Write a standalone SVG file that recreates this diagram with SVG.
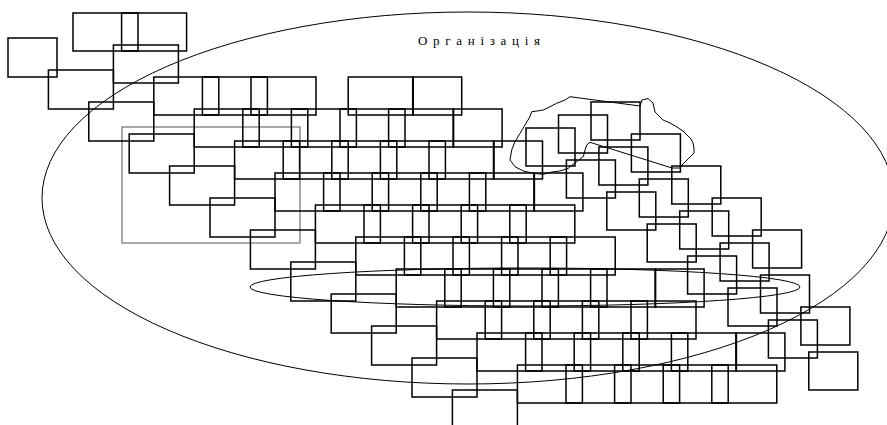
<svg xmlns="http://www.w3.org/2000/svg" width="887" height="425" viewBox="0 0 887 425">
<style>
.b{fill:none;stroke:#000;stroke-width:1.5}
.e{fill:none;stroke:#000;stroke-width:1}
.g{fill:none;stroke:#555;stroke-width:1}
.t{font-family:"Liberation Serif",serif;font-size:13px;letter-spacing:5.7px;fill:#000}
</style>
<defs>
<rect id="w" width="65" height="38"/>
<rect id="n" width="49" height="38"/>
<rect id="l" width="65" height="39"/>
</defs>
<rect width="887" height="425" fill="#fff"/>
<g id="org-ellipse"><ellipse class="e" cx="468" cy="198" rx="426" ry="186"/></g>
<g id="inner-ellipse"><ellipse class="e" cx="525" cy="287" rx="275" ry="19"/></g>
<g id="gray-frame"><rect class="g" x="122" y="127" width="178" height="116"/></g>
<g id="cloud"><path class="e" d="M570,96.7 L640,106 L642,100 L648,98.5 L653,103 L655,112 L663,120 L670,123 L677,127 L683,131 L687,135 L691,139 L693,143 L694,148 L694,153 L690,157 L685,162 L682,165 L680,168 L672,168 L590,142.3 L586.7,145 L585,150 L583.3,156.7 L580,159 L576.7,161.7 L572,165 L568.3,168.3 L560,171 L552,172 L543.3,174.3 L533.3,173.3 L523.3,171 L515,166.7 L510,160 L511.7,150 L515,141.7 L520,133.3 L525,125 L530,116.7 L531.7,111.7 L537,111 L543.3,110 L550,106.7 L556.7,103.3 L565,100 Z"/></g>
<g id="label"><text class="t" x="418" y="45">Організація</text></g>
<g id="rows" class="b">
<g id="r0-0"><use href="#w" x="73" y="13"/></g>
<g id="r0-1"><use href="#w" x="121.6" y="13"/></g>
<g id="r1-0"><use href="#w" x="113.4" y="45"/></g>
<g id="r2-0"><use href="#w" x="153.8" y="77"/></g>
<g id="r2-1"><use href="#w" x="202.4" y="77"/></g>
<g id="r2-2"><use href="#w" x="251" y="77"/></g>
<g id="r2-4"><use href="#w" x="348.2" y="77"/></g>
<g id="r3-0"><use href="#w" x="194.2" y="109"/></g>
<g id="r3-1"><use href="#w" x="242.8" y="109"/></g>
<g id="r3-2"><use href="#w" x="291.4" y="109"/></g>
<g id="r3-3"><use href="#w" x="340" y="109"/></g>
<g id="r3-4"><use href="#w" x="388.6" y="109"/></g>
<g id="r4-0"><use href="#w" x="234.6" y="141"/></g>
<g id="r4-1"><use href="#w" x="283.2" y="141"/></g>
<g id="r4-2"><use href="#w" x="331.8" y="141"/></g>
<g id="r4-3"><use href="#w" x="380.4" y="141"/></g>
<g id="r4-4"><use href="#w" x="429" y="141"/></g>
<g id="r5-0"><use href="#w" x="275" y="173"/></g>
<g id="r5-1"><use href="#w" x="323.6" y="173"/></g>
<g id="r5-2"><use href="#w" x="372.2" y="173"/></g>
<g id="r5-3"><use href="#w" x="420.8" y="173"/></g>
<g id="r5-4"><use href="#w" x="469.4" y="173"/></g>
<g id="r6-0"><use href="#w" x="315.4" y="205"/></g>
<g id="r6-1"><use href="#w" x="364" y="205"/></g>
<g id="r6-2"><use href="#w" x="412.6" y="205"/></g>
<g id="r6-3"><use href="#w" x="461.2" y="205"/></g>
<g id="r6-4"><use href="#w" x="509.8" y="205"/></g>
<g id="r7-0"><use href="#w" x="355.8" y="237"/></g>
<g id="r7-1"><use href="#w" x="404.4" y="237"/></g>
<g id="r7-2"><use href="#w" x="453" y="237"/></g>
<g id="r7-3"><use href="#w" x="501.6" y="237"/></g>
<g id="r7-4"><use href="#w" x="550.2" y="237"/></g>
<g id="r8-0"><use href="#w" x="396.2" y="269"/></g>
<g id="r8-1"><use href="#w" x="444.8" y="269"/></g>
<g id="r8-2"><use href="#w" x="493.4" y="269"/></g>
<g id="r8-3"><use href="#w" x="542" y="269"/></g>
<g id="r8-4"><use href="#w" x="590.6" y="269"/></g>
<g id="r9-0"><use href="#w" x="436.6" y="301"/></g>
<g id="r9-1"><use href="#w" x="485.2" y="301"/></g>
<g id="r9-2"><use href="#w" x="533.8" y="301"/></g>
<g id="r9-3"><use href="#w" x="582.4" y="301"/></g>
<g id="r9-4"><use href="#w" x="631" y="301"/></g>
<g id="r10-0"><use href="#w" x="477" y="333"/></g>
<g id="r10-1"><use href="#w" x="525.6" y="333"/></g>
<g id="r10-2"><use href="#w" x="574.2" y="333"/></g>
<g id="r10-3"><use href="#w" x="622.8" y="333"/></g>
<g id="r10-4"><use href="#w" x="671.4" y="333"/></g>
<g id="r11-0"><use href="#w" x="517.4" y="365"/></g>
<g id="r11-1"><use href="#w" x="566" y="365"/></g>
<g id="r11-2"><use href="#w" x="614.6" y="365"/></g>
<g id="r11-3"><use href="#w" x="663.2" y="365"/></g>
<g id="r11-4"><use href="#w" x="711.8" y="365"/></g>
</g>
<g id="lattice" class="b">
<g id="k-1_-2"><use href="#n" x="412.7" y="77"/></g>
<g id="k-1_-1"><use href="#n" x="453.1" y="109"/></g>
<g id="k-1_0"><use href="#n" x="493.5" y="141"/></g>
<g id="k-1_1"><use href="#n" x="533.9" y="173"/></g>
<g id="k-1_4"><use href="#n" x="655.1" y="269"/></g>
<g id="k-1_6"><use href="#n" x="735.9" y="333"/></g>
<g id="k0_0"><use href="#n" x="526" y="128"/></g>
<g id="k0_1"><use href="#n" x="566.4" y="160"/></g>
<g id="k0_2"><use href="#n" x="606.8" y="192"/></g>
<g id="k0_3"><use href="#n" x="647.2" y="224"/></g>
<g id="k0_4"><use href="#n" x="687.6" y="256"/></g>
<g id="k0_5"><use href="#n" x="728" y="288"/></g>
<g id="k0_6"><use href="#n" x="768.4" y="320"/></g>
<g id="k0_7"><use href="#n" x="808.8" y="352"/></g>
<g id="k1_0"><use href="#n" x="558.5" y="115"/></g>
<g id="k1_1"><use href="#n" x="598.9" y="147"/></g>
<g id="k1_2"><use href="#n" x="639.3" y="179"/></g>
<g id="k1_3"><use href="#n" x="679.7" y="211"/></g>
<g id="k1_4"><use href="#n" x="720.1" y="243"/></g>
<g id="k1_5"><use href="#n" x="760.5" y="275"/></g>
<g id="k1_6"><use href="#n" x="800.9" y="307"/></g>
<g id="k2_0"><use href="#n" x="591" y="102"/></g>
<g id="k2_1"><use href="#n" x="631.4" y="134"/></g>
<g id="k2_2"><use href="#n" x="671.8" y="166"/></g>
<g id="k2_3"><use href="#n" x="712.2" y="198"/></g>
<g id="k2_4"><use href="#n" x="752.6" y="230"/></g>
</g>
<g id="stairs" class="b">
<g id="s0"><rect x="8" y="38" width="49" height="39"/></g>
<g id="s1"><use href="#l" x="48.4" y="70"/></g>
<g id="s2"><use href="#l" x="88.8" y="102"/></g>
<g id="s3"><use href="#l" x="129.2" y="134"/></g>
<g id="s4"><use href="#l" x="169.6" y="166"/></g>
<g id="s5"><use href="#l" x="210" y="198"/></g>
<g id="s6"><use href="#l" x="250.4" y="230"/></g>
<g id="s7"><use href="#l" x="290.8" y="262"/></g>
<g id="s8"><use href="#l" x="331.2" y="294"/></g>
<g id="s9"><use href="#l" x="371.6" y="326"/></g>
<g id="s10"><use href="#l" x="412" y="358"/></g>
<g id="s11"><use href="#l" x="452.4" y="390"/></g>
</g>
</svg>
